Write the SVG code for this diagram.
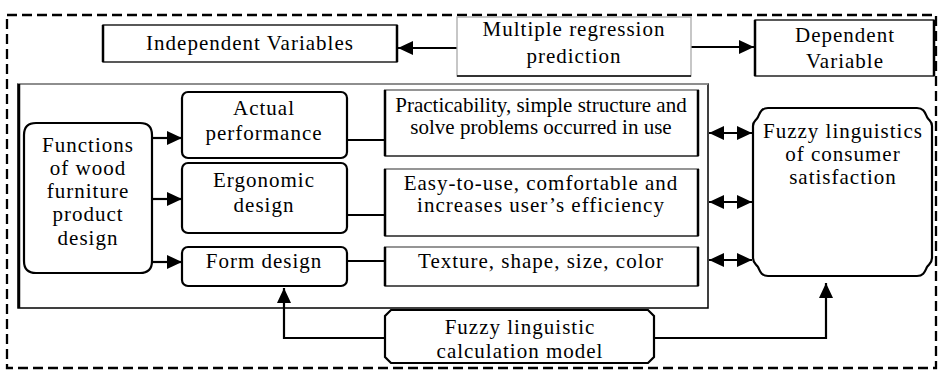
<svg xmlns="http://www.w3.org/2000/svg" width="942" height="370" viewBox="0 0 942 370">
<style>
text{font-family:"Liberation Serif","Times New Roman",serif;font-size:21px;fill:#000;text-anchor:middle;letter-spacing:1px}
.tight{letter-spacing:0px}
.box{fill:#fff;stroke:#000;stroke-width:1.3}
.rbox{fill:#fff;stroke:#000;stroke-width:2.2}
.side{stroke:#000;stroke-width:2.5;fill:none}
.gray{stroke:#aaa;stroke-width:1.3;fill:none}
.con{stroke:#000;stroke-width:2.2;fill:none}
</style>
<defs>
<marker id="ah" markerUnits="userSpaceOnUse" markerWidth="16" markerHeight="14" refX="15" refY="7" orient="auto-start-reverse">
<path d="M0,0 L15,7 L0,14 z" fill="#000"/>
</marker>
</defs>
<rect x="7" y="15" width="929" height="353" fill="none" stroke="#000" stroke-width="2.3" stroke-dasharray="10 5"/>
<g id="frame">
<rect x="18" y="84" width="690" height="224" fill="none" stroke="#000" stroke-width="1.5"/>
<line x1="18" y1="84" x2="708" y2="84" class="gray"/>
<line x1="19" y1="84" x2="19" y2="308" class="side"/>
</g>
<g id="connectors">
<line x1="457" y1="48" x2="398" y2="48" class="con" marker-end="url(#ah)"/>
<line x1="691" y1="47" x2="754" y2="47" class="con" marker-end="url(#ah)"/>
<line x1="152" y1="138" x2="182" y2="138" class="con" marker-end="url(#ah)"/>
<line x1="152" y1="199" x2="182" y2="199" class="con" marker-end="url(#ah)"/>
<line x1="152" y1="262" x2="182" y2="262" class="con" marker-end="url(#ah)"/>
<line x1="347" y1="140" x2="385" y2="140" class="con"/>
<line x1="347" y1="215" x2="385" y2="215" class="con"/>
<line x1="347" y1="261" x2="385" y2="261" class="con"/>
<line x1="709" y1="133" x2="752" y2="133" class="con" marker-start="url(#ah)" marker-end="url(#ah)"/>
<line x1="709" y1="202" x2="752" y2="202" class="con" marker-start="url(#ah)" marker-end="url(#ah)"/>
<line x1="709" y1="260" x2="752" y2="260" class="con" marker-start="url(#ah)" marker-end="url(#ah)"/>
<polyline points="385,338 284,338 284,288" class="con" marker-end="url(#ah)"/>
<polyline points="654,338 826,338 826,283" class="con" marker-end="url(#ah)"/>
</g>
<g id="independent">
<rect x="103" y="25" width="294" height="37" class="box"/>
<line x1="103" y1="25" x2="103" y2="62" class="side"/>
<line x1="397" y1="25" x2="397" y2="62" class="side"/>
<text x="250" y="50">Independent Variables</text>
</g>
<g id="regression">
<rect x="457" y="17" width="234" height="59" fill="#fff" stroke="#aaa" stroke-width="1.3"/>
<line x1="457" y1="76" x2="691" y2="76" stroke="#000" stroke-width="1.5"/>
<text x="574" y="36">Multiple regression</text>
<text x="574" y="63">prediction</text>
</g>
<g id="dependent">
<rect x="755" y="20" width="179" height="56" class="box"/>
<line x1="755" y1="20" x2="755" y2="76" class="side"/>
<line x1="934" y1="20" x2="934" y2="76" class="side"/>
<text x="845" y="42">Dependent</text>
<text x="845" y="68">Variable</text>
</g>
<g id="functions">
<path d="M36,123 H140 Q152,123 152,135 V261 Q152,273 140,273 H36 Q24,273 24,261 V135 Q24,123 36,123 Z" class="rbox"/>
<text x="88" y="152">Functions</text>
<text x="88" y="175">of wood</text>
<text x="88" y="198">furniture</text>
<text x="88" y="221">product</text>
<text x="88" y="245">design</text>
</g>
<g id="actual">
<rect x="182" y="92" width="165" height="66" rx="6" class="rbox"/>
<text x="264" y="115">Actual</text>
<text x="264" y="140">performance</text>
</g>
<g id="ergonomic">
<rect x="182" y="163" width="165" height="70" rx="6" class="rbox"/>
<text x="264" y="187">Ergonomic</text>
<text x="264" y="212">design</text>
</g>
<g id="form">
<rect x="182" y="247" width="165" height="39" rx="6" class="rbox"/>
<text x="264" y="268">Form design</text>
</g>
<g id="practicability">
<rect x="385" y="90" width="313" height="66" class="box"/>
<line x1="385" y1="90" x2="698" y2="90" class="gray"/>
<line x1="385" y1="90" x2="385" y2="156" class="side"/>
<line x1="698" y1="90" x2="698" y2="156" class="side"/>
<text x="541" y="112" class="tight">Practicability, simple structure and</text>
<text x="541" y="134" class="tight">solve problems occurred in use</text>
</g>
<g id="easy">
<rect x="385" y="169" width="313" height="67" class="box"/>
<line x1="385" y1="169" x2="698" y2="169" class="gray"/>
<line x1="385" y1="169" x2="385" y2="236" class="side"/>
<line x1="698" y1="169" x2="698" y2="236" class="side"/>
<text x="541" y="190">Easy-to-use, comfortable and</text>
<text x="541" y="212">increases user’s efficiency</text>
</g>
<g id="texture">
<rect x="385" y="247" width="313" height="39" class="box"/>
<line x1="385" y1="247" x2="698" y2="247" class="gray"/>
<line x1="385" y1="247" x2="385" y2="286" class="side"/>
<line x1="698" y1="247" x2="698" y2="286" class="side"/>
<text x="541" y="268">Texture, shape, size, color</text>
</g>
<g id="fuzzy-satisfaction">
<path d="M768,108 H917 C924,108 925,113 927,117 C929,121 932,121 932,126 V258 C932,263 929,264 927,267 C925,271 924,276 917,276 H768 C761,276 760,271 758,267 C756,264 753,263 753,258 V126 C753,121 756,121 758,117 C760,113 761,108 768,108 Z" class="rbox"/>
<text x="843" y="138">Fuzzy linguistics</text>
<text x="843" y="161">of consumer</text>
<text x="843" y="184">satisfaction</text>
</g>
<g id="calc-model">
<path d="M391,310 H648 L654,316 V357 L648,363 H391 L385,357 V316 Z" class="rbox"/>
<text x="520" y="334">Fuzzy linguistic</text>
<text x="520" y="358">calculation model</text>
</g>
</svg>
